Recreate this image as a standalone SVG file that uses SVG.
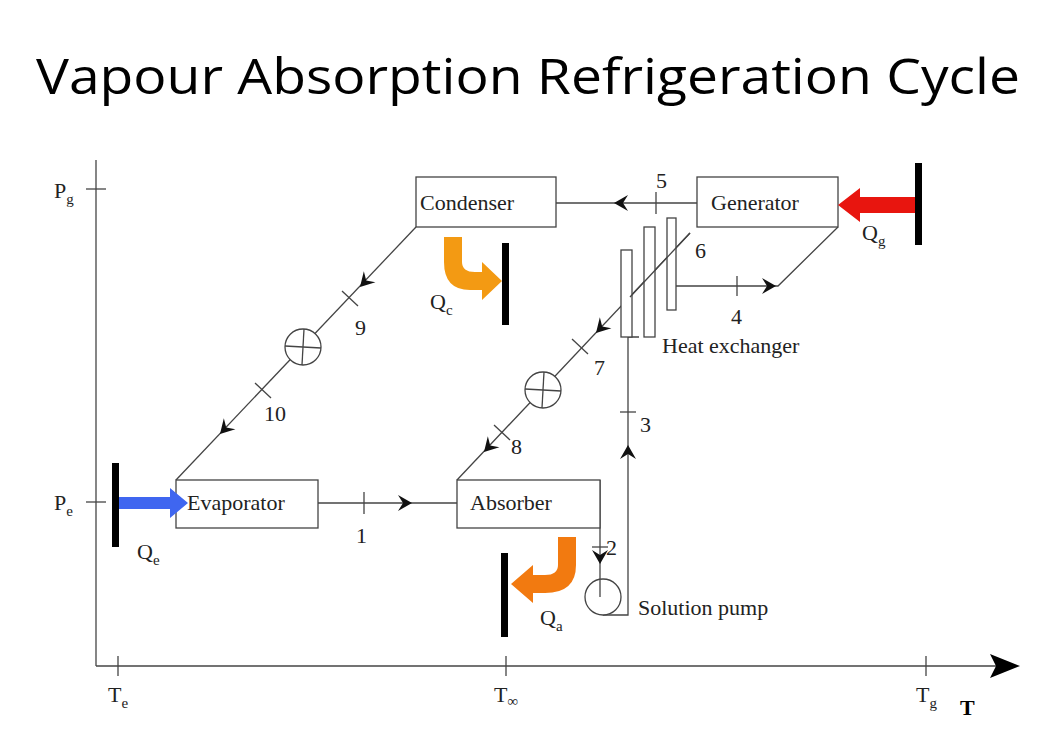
<svg xmlns="http://www.w3.org/2000/svg" width="1045" height="756" viewBox="0 0 1045 756">
<style>
.t{font-family:"Liberation Serif",serif;font-size:22px;fill:#222}
.s{font-family:"Liberation Serif",serif;font-size:15px;fill:#222}
.b{fill:#fff;stroke:#444;stroke-width:1.3}
.l{fill:none;stroke:#444;stroke-width:1.3}
.bar{fill:#000}
</style>
<defs>
<path id="ah" d="M0,0 L-14,-8 L-9,0 L-14,8 Z" fill="#111"/>
</defs>
<rect width="1045" height="756" fill="#fff"/>
<text x="36" y="94" textLength="984" lengthAdjust="spacingAndGlyphs" font-family="Open Sans,sans-serif" font-size="50" fill="#000">Vapour Absorption Refrigeration Cycle</text>
<g id="axes">
<line class="l" x1="96" y1="160" x2="96" y2="666"/>
<line class="l" x1="96" y1="666" x2="1000" y2="666"/>
<path d="M1020,666 L990,654 L996,666 L990,678 Z" fill="#000"/>
<line class="l" x1="86" y1="189" x2="106" y2="189"/>
<line class="l" x1="86" y1="502" x2="106" y2="502"/>
<line class="l" x1="118" y1="656" x2="118" y2="676"/>
<line class="l" x1="506" y1="656" x2="506" y2="676"/>
<line class="l" x1="926" y1="656" x2="926" y2="676"/>
<text class="t" x="54" y="198">P<tspan class="s" dy="6">g</tspan></text>
<text class="t" x="54" y="510">P<tspan class="s" dy="6">e</tspan></text>
<text class="t" x="108" y="702">T<tspan class="s" dy="6">e</tspan></text>
<text class="t" x="494" y="702">T<tspan class="s" dy="4">∞</tspan></text>
<text class="t" x="916" y="702">T<tspan class="s" dy="6">g</tspan></text>
<text x="960" y="715" font-family="Liberation Serif,serif" font-size="22" font-weight="bold">T</text>
</g>
<g id="connectors">
<line class="l" x1="556" y1="203" x2="697" y2="203"/>
<use href="#ah" transform="translate(614,203) rotate(180)"/>
<line class="l" x1="656" y1="192" x2="656" y2="214"/>
<text class="t" x="656" y="188">5</text>
<line class="l" x1="318" y1="503" x2="457" y2="503"/>
<use href="#ah" transform="translate(412,503)"/>
<line class="l" x1="364" y1="492" x2="364" y2="514"/>
<text class="t" x="356" y="543">1</text>
<line class="l" x1="416" y1="227" x2="176" y2="480"/>
<use href="#ah" transform="translate(360,287) rotate(133.5)"/>
<line class="l" x1="342" y1="291" x2="358" y2="306"/>
<text class="t" x="355" y="335">9</text>
<line class="l" x1="255" y1="383" x2="271" y2="398"/>
<text class="t" x="264" y="421">10</text>
<use href="#ah" transform="translate(220,434) rotate(133.5)"/>
<line class="l" x1="690" y1="233" x2="457" y2="480"/>
<use href="#ah" transform="translate(596,333) rotate(133.5)"/>
<line class="l" x1="572" y1="339" x2="588" y2="354"/>
<text class="t" x="594" y="375">7</text>
<line class="l" x1="494" y1="425" x2="510" y2="440"/>
<text class="t" x="511" y="454">8</text>
<use href="#ah" transform="translate(484,452) rotate(133.5)"/>
<polyline class="l" points="838,227 778,286 676,286"/>
<use href="#ah" transform="translate(776,286)"/>
<line class="l" x1="737" y1="276" x2="737" y2="296"/>
<text class="t" x="731" y="324">4</text>
<text class="t" x="695" y="258">6</text>
<line class="l" x1="600" y1="480" x2="600" y2="597"/>
<use href="#ah" transform="translate(600,564) rotate(90)"/>
<line class="l" x1="592" y1="547" x2="608" y2="547"/>
<text class="t" x="606" y="555">2</text>
<polyline class="l" points="603,615 628,615 628,337 639,337"/>
<use href="#ah" transform="translate(628,445) rotate(-90)"/>
<line class="l" x1="620" y1="412" x2="636" y2="412"/>
<text class="t" x="640" y="432">3</text>
</g>
<g id="valve1"><circle class="b" cx="303" cy="347" r="18"/><line class="l" x1="285" y1="346" x2="321" y2="348"/><line class="l" x1="304" y1="329" x2="302" y2="365"/></g>
<g id="valve2"><circle class="b" cx="543" cy="390" r="18"/><line class="l" x1="525" y1="389" x2="561" y2="391"/><line class="l" x1="544" y1="372" x2="542" y2="408"/></g>
<g id="pump"><circle class="b" cx="603" cy="597" r="18"/><line class="l" x1="600" y1="580" x2="600" y2="597"/><text class="t" x="638" y="615">Solution pump</text></g>
<g id="heat-exchanger">
<rect class="b" x="667" y="218" width="9" height="92"/>
<rect class="b" x="644" y="227" width="11" height="110"/>
<rect class="b" x="621" y="250" width="11" height="87"/>
<line class="l" x1="690" y1="233" x2="630" y2="297"/>
<text class="t" x="662" y="353">Heat exchanger</text>
</g>
<g id="condenser"><rect class="b" x="416" y="177" width="140" height="50"/><text class="t" x="420" y="210">Condenser</text></g>
<g id="generator"><rect class="b" x="697" y="177" width="141" height="50"/><text class="t" x="711" y="210">Generator</text></g>
<g id="evaporator"><rect class="b" x="176" y="480" width="142" height="48"/><text class="t" x="187" y="510">Evaporator</text></g>
<g id="absorber"><rect class="b" x="457" y="480" width="143" height="48"/><text class="t" x="470" y="510">Absorber</text></g>
<g id="Qg"><rect class="bar" x="915" y="163" width="7" height="82"/><path d="M915,197 L860,197 L860,188 L838,205 L860,222 L860,213 L915,213 Z" fill="#e8150f"/><text class="t" x="862" y="240">Q<tspan class="s" dy="6">g</tspan></text></g>
<g id="Qc"><rect class="bar" x="502" y="243" width="7" height="82"/><path d="M444,237 L462,237 L462,262 Q462,272 475,272 L482,272 L482,262 L502,281 L482,300 L482,290 L470,290 Q444,290 444,262 Z" fill="#f39a13"/><text class="t" x="430" y="309">Q<tspan class="s" dy="6">c</tspan></text></g>
<g id="Qa"><rect class="bar" x="501" y="553" width="7" height="84"/><path d="M576,537 L558,537 L558,565 Q558,575 545,575 L533,575 L533,565 L511,584 L533,603 L533,593 L545,593 Q576,593 576,565 Z" fill="#f27a10"/><text class="t" x="540" y="625">Q<tspan class="s" dy="6">a</tspan></text></g>
<g id="Qe"><rect class="bar" x="112" y="463" width="7" height="84"/><path d="M119,497 L170,497 L170,488 L188,503 L170,518 L170,509 L119,509 Z" fill="#3f66f0"/><text class="t" x="137" y="559">Q<tspan class="s" dy="6">e</tspan></text></g>
</svg>
